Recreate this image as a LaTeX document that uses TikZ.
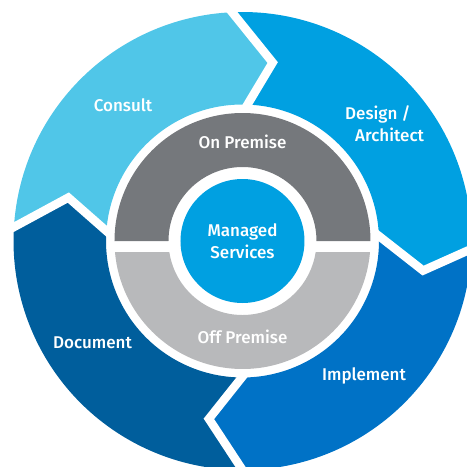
\documentclass[tikz,border=0pt]{standalone}
\usepackage{fontspec}
\setmainfont{Fira Sans}[BoldFont={Fira Sans Medium}]
\usepackage{tikz}

\definecolor{consultblue}{HTML}{50C6E8}
\definecolor{designblue}{HTML}{00A0E1}
\definecolor{implblue}{HTML}{0072C6}
\definecolor{docblue}{HTML}{005E9C}
\definecolor{ongray}{HTML}{75787C}
\definecolor{offgray}{HTML}{B8B9BB}

\begin{document}
\begin{tikzpicture}[
  x=1pt, y=1pt,
  font=\bfseries\fontsize{17}{22}\selectfont,
  lbl/.style={text=white, inner sep=0pt, align=center},
  gap/.style={draw=white, line width=8.5pt, line join=miter,
      shorten <=-8pt, shorten >=-8pt}
]
\useasboundingbox (-242.5,-226) rectangle (224.5,241);
\clip (-242.5,-226) rectangle (224.5,241);

% outer cycle, four arrow segments
\fill[consultblue] (176.5:229) arc[start angle=176.5, end angle=92.6, radius=229]
  -- (80.4:181) -- (87.9:136.5) arc[start angle=87.9, end angle=175.8, radius=136.5]
  -- (166:179.5) -- cycle;
\fill[designblue] (92.6:229) arc[start angle=92.6, end angle=-2, radius=229]
  -- (-9.3:183) -- (2.1:136.5) arc[start angle=2.1, end angle=87.9, radius=136.5]
  -- (80.4:181) -- cycle;
\fill[implblue] (-2:229) arc[start angle=-2, end angle=-90, radius=229]
  -- (-100.7:181) -- (-90.3:136.5) arc[start angle=-90.3, end angle=2.1, radius=136.5]
  -- (-9.3:183) -- cycle;
\fill[docblue] (-90:229) arc[start angle=-90, end angle=-183.5, radius=229]
  -- (166:179.5) -- (175.8:136.5) arc[start angle=175.8, end angle=269.7, radius=136.5]
  -- (-100.7:181) -- cycle;

% white chevrons between the segments
\draw[gap] (92.6:229) -- (80.4:181) -- (87.9:136.5);
\draw[gap] (-2:229) -- (-9.3:183) -- (2.1:136.5);
\draw[gap] (-90:229) -- (-100.7:181) -- (-90.3:136.5);
\draw[gap] (176.5:229) -- (166:179.5) -- (175.8:136.5);

% inner ring
\fill[ongray] (0:128) arc[start angle=0, end angle=180, radius=128]
  -- (180:74) arc[start angle=180, end angle=0, radius=74] -- cycle;
\fill[offgray] (-4.93:128) arc[start angle=-4.93, end angle=-175.07, radius=128]
  -- (-171.45:74) arc[start angle=-171.45, end angle=-8.55, radius=74] -- cycle;
\fill[designblue] (0,0) circle[radius=62];

% labels
\node[lbl] (managed) at (0,0) {Managed\\Services};
\node[lbl] (onprem) at (0,99) {On Premise};
\node[lbl] (offprem) at (0,-96) {Off Premise};
\node[lbl] (consult) at (-119.5,136) {Consult};
\node[lbl, align=left, anchor=west] (design) at (102.5,117)
  {Design /\\\hspace*{10pt}Architect};
\node[lbl] (implement) at (121.5,-134.5) {Implement};
\node[lbl] (document) at (-150,-102) {Document};
\end{tikzpicture}
\end{document}
